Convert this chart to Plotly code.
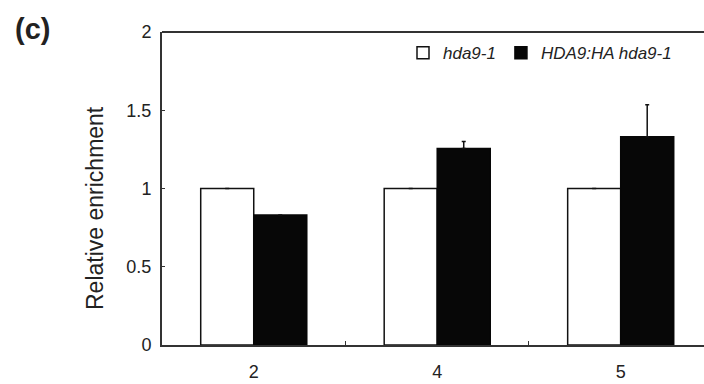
import plotly.graph_objects as go

categories = ["2", "4", "5"]
hda9_values = [1.0, 1.0, 1.0]
hda9_err = [0.0, 0.0, 0.0]
ha_values = [0.83, 1.255, 1.33]
ha_err = [0.0, 0.045, 0.205]
y_ticks = [0, 0.5, 1, 1.5, 2]
y_ticklabels = ["0", "0.5", "1", "1.5", "2"]

FONT = "Liberation Sans, Arial, sans-serif"
W, H = 704, 384
ML, MR, MT, MB = 162, 0, 32, 39

fig = go.Figure()
fig.add_trace(go.Bar(
    x=categories, y=hda9_values, name="hda9-1",
    marker=dict(color="white", line=dict(color="#111", width=1.5)),
    error_y=dict(type="data", array=hda9_err, arrayminus=[0, 0, 0], symmetric=False,
                 color="#111", thickness=1.5, width=2),
))
fig.add_trace(go.Bar(
    x=categories, y=ha_values, name="HDA9:HA hda9-1",
    marker=dict(color="#070707", line=dict(color="#070707", width=1.5)),
    error_y=dict(type="data", array=ha_err, arrayminus=[0, 0, 0], symmetric=False,
                 color="#111", thickness=1.5, width=2),
))

pw = W - ML - MR
fig.update_layout(
    width=W, height=H,
    margin=dict(l=ML, r=MR, t=MT, b=MB, pad=0),
    paper_bgcolor="white", plot_bgcolor="white",
    barmode="group", bargap=0.422, bargroupgap=0,
    font=dict(family=FONT, size=18, color="#222"),
    showlegend=True,
    legend=dict(orientation="h", x=(403 - ML) / pw, y=0.99, xanchor="left", yanchor="top",
                font=dict(family=FONT, size=17, style="italic", color="#222"),
                bgcolor="rgba(0,0,0,0)", itemwidth=30, tracegroupgap=0),
    xaxis=dict(type="category", range=[-0.5, 2.454], showline=True, mirror=False,
               linecolor="#333", linewidth=2, ticks="inside", tickson="boundaries",
               ticklen=4, tickcolor="#333", showgrid=False, zeroline=False,
               tickfont=dict(size=18), ticklabelstandoff=9),
    yaxis=dict(range=[0, 2], tickvals=y_ticks, ticktext=y_ticklabels, showline=True,
               mirror=False,
               linecolor="#333", linewidth=2, ticks="inside", ticklen=3,
               tickcolor="#333", showgrid=False, zeroline=False,
               tickfont=dict(size=18), ticklabelstandoff=5),
    shapes=[dict(type="line", xref="paper", yref="paper", x0=0, x1=1, y0=1, y1=1,
                 line=dict(color="#333", width=2))],
    annotations=[
        dict(text="Relative enrichment", textangle=-90, xref="paper", yref="paper",
             x=(95 - ML) / pw, y=(345 - 208) / (H - MT - MB), xanchor="center", yanchor="middle",
             showarrow=False, font=dict(family=FONT, size=23, color="#222")),
        dict(text="<b>(c)</b>", xref="paper", yref="paper",
             x=(32 - ML) / pw, y=(345 - 29) / (H - MT - MB), xanchor="center",
             yanchor="middle", showarrow=False,
             font=dict(family=FONT, size=29, color="#222")),
    ],
)

fig.write_html("out.html", config={"displayModeBar": False},
               post_script="document.body.style.margin='0';document.body.style.overflow='hidden';")
